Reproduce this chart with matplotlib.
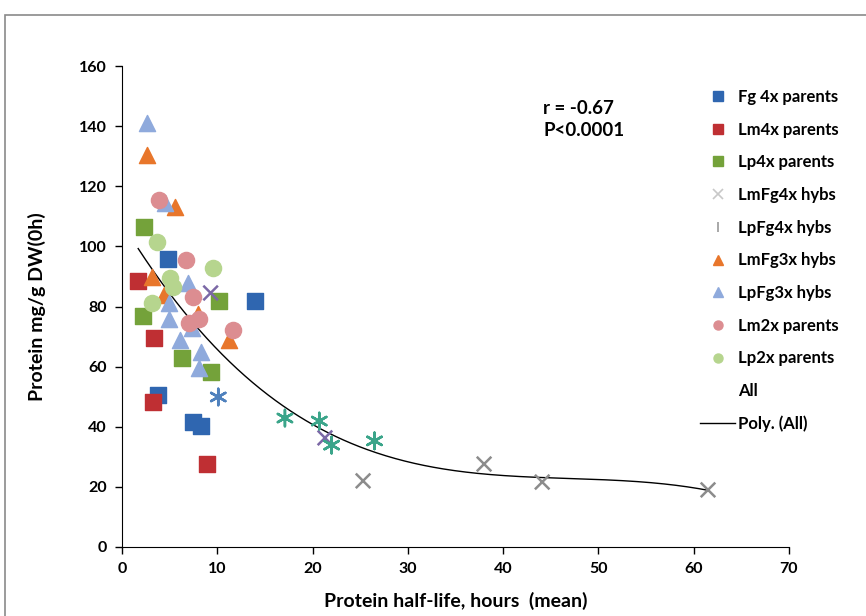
import matplotlib
matplotlib.use("Agg")
import matplotlib.pyplot as plt
import numpy as np
from matplotlib.lines import Line2D
from matplotlib.patches import Rectangle

# Datos (vida media en horas, proteina mg/g DW)
fg4x_x = [4.8, 14.0, 3.8, 7.5, 8.3]
fg4x_y = [95.8, 81.8, 50.5, 41.6, 40.3]
lm4x_x = [1.7, 3.4, 3.3, 8.9]
lm4x_y = [88.5, 69.5, 48.2, 27.6]
lp4x_x = [2.3, 10.2, 2.2, 6.3, 9.3]
lp4x_y = [106.5, 81.8, 76.8, 62.9, 58.2]
lmfg4x_x = [9.3, 21.3, 25.3, 38.0, 44.1, 61.5]
lmfg4x_y = [84.5, 36.3, 22.0, 27.6, 21.6, 19.0]
lmfg4x_c = ['#7b68a6', '#7b68a6', '#8c8c8c', '#8c8c8c', '#8c8c8c', '#8c8c8c']
lpfg4x_x = [10.1, 17.1, 20.7, 22.0, 26.5]
lpfg4x_y = [49.9, 42.9, 41.9, 33.9, 35.3]
lpfg4x_c = ['#4f81bd', '#3ba58a', '#3ba58a', '#3ba58a', '#3ba58a']
lmfg3x_x = [2.6, 5.6, 3.1, 4.4, 11.2, 8.0]
lmfg3x_y = [130.4, 113.1, 89.8, 83.8, 68.9, 77.5]
lpfg3x_x = [2.6, 4.5, 4.9, 4.9, 6.1, 6.9, 7.3, 8.3, 8.1]
lpfg3x_y = [141.0, 114.4, 81.2, 75.8, 68.9, 87.8, 72.9, 64.9, 59.5]
lm2x_x = [3.9, 6.7, 7.4, 7.0, 8.1, 11.6]
lm2x_y = [115.4, 95.5, 83.2, 74.5, 75.8, 72.2]
lp2x_x = [3.7, 9.6, 5.0, 5.4, 3.1]
lp2x_y = [101.5, 92.8, 89.5, 86.5, 81.2]

etiquetas = ['Fg 4x parents', 'Lm4x parents', 'Lp4x parents', 'LmFg4x hybs',
             'LpFg4x hybs', 'LmFg3x hybs', 'LpFg3x hybs', 'Lm2x parents',
             'Lp2x parents', 'All', 'Poly. (All)']

plt.rcParams['font.family'] = ['Lato', 'DejaVu Sans']
plt.rcParams['font.weight'] = 'bold'

fig = plt.figure(figsize=(8.66, 6.16), dpi=100)
ax = fig.add_axes([122 / 866, 1 - 547 / 616, 667 / 866, 481 / 616])

# marco gris alrededor de la figura
fig.patches.append(Rectangle((5 / 866, -0.2), 1.5, 1.2 - 15 / 616,
                             transform=fig.transFigure, fill=False,
                             edgecolor='#8a8a8a', linewidth=1.2))

s = 135
ax.scatter(fg4x_x, fg4x_y, marker='s', s=s, color='#2f66b0', zorder=3)
ax.scatter(lm4x_x, lm4x_y, marker='s', s=s, color='#bf2f33', zorder=3)
ax.scatter(lp4x_x, lp4x_y, marker='s', s=s, color='#74a23a', zorder=3)
ax.scatter(lmfg4x_x, lmfg4x_y, marker='x', s=110, c=lmfg4x_c, linewidths=1.8, zorder=3)
ax.scatter(lpfg4x_x, lpfg4x_y, marker=(6, 2, 0), s=140, c=lpfg4x_c, linewidths=1.8, zorder=3)
ax.scatter(lmfg3x_x, lmfg3x_y, marker='^', s=s, color='#e8762b', zorder=3)
ax.scatter(lpfg3x_x, lpfg3x_y, marker='^', s=s, color='#8faadc', zorder=3)
ax.scatter(lm2x_x, lm2x_y, marker='o', s=s, color='#dc8d91', zorder=3)
ax.scatter(lp2x_x, lp2x_y, marker='o', s=s, color='#b6d58e', zorder=3)

# linea de tendencia polinomica sobre todos los puntos
todos_x = np.array(fg4x_x + lm4x_x + lp4x_x + lmfg4x_x + lpfg4x_x + lmfg3x_x + lpfg3x_x + lm2x_x + lp2x_x)
todos_y = np.array(fg4x_y + lm4x_y + lp4x_y + lmfg4x_y + lpfg4x_y + lmfg3x_y + lpfg3x_y + lm2x_y + lp2x_y)
coef = np.polyfit(todos_x, todos_y, 3)
xs = np.linspace(todos_x.min(), todos_x.max(), 300)
ax.plot(xs, np.polyval(coef, xs), color='black', lw=1, zorder=2)

ax.set_xlim(0, 70)
ax.set_ylim(0, 160)
ax.set_xticks(np.arange(0, 71, 10))
ax.set_yticks(np.arange(0, 161, 20))
ax.spines['top'].set_visible(False)
ax.spines['right'].set_visible(False)
ax.tick_params(direction='out', length=5, width=1, labelsize=11.5, pad=6)
ax.set_xlabel('Protein half-life, hours  (mean)', fontsize=14, fontweight='bold', labelpad=11)
ax.set_ylabel('Protein mg/g DW(0h)', fontsize=14, fontweight='bold', labelpad=24)

ax.text(44.2, 146.0, 'r = -0.67', fontsize=13.5, fontweight='bold', va='center', ha='left')
ax.text(44.2, 138.4, 'P<0.0001', fontsize=13.5, fontweight='bold', va='center', ha='left')

manejadores = [
    Line2D([], [], ls='none', marker='s', ms=6.5, color='#2f66b0'),
    Line2D([], [], ls='none', marker='s', ms=6.5, color='#bf2f33'),
    Line2D([], [], ls='none', marker='s', ms=6.5, color='#74a23a'),
    Line2D([], [], ls='none', marker='x', ms=7, color='#c8c8c8', mew=1.2),
    Line2D([], [], ls='none', marker='|', ms=7, color='#9a9a9a', mew=1.2),
    Line2D([], [], ls='none', marker='^', ms=6.5, color='#e8762b'),
    Line2D([], [], ls='none', marker='^', ms=6.5, color='#8faadc'),
    Line2D([], [], ls='none', marker='o', ms=6.5, color='#dc8d91'),
    Line2D([], [], ls='none', marker='o', ms=6.5, color='#b6d58e'),
    Line2D([], [], ls='none'),
    Line2D([], [], color='black', lw=1),
]
fig.legend(manejadores, etiquetas, loc='upper left', bbox_to_anchor=(700 / 866, 1 - 89 / 616),
           frameon=False, fontsize=12, labelspacing=1.0, handlelength=2.1,
           handletextpad=0.2, borderpad=0, borderaxespad=0)

plt.savefig('out.png', dpi=100)
